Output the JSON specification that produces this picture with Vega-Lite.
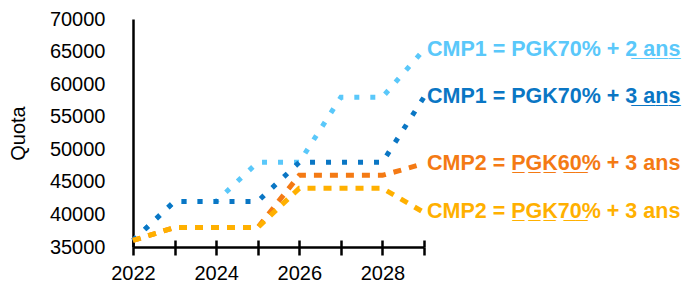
{
  "$schema": "https://vega.github.io/schema/vega-lite/v6.json",
  "width": 291,
  "height": 228,
  "autosize": {"type": "none"},
  "padding": {"left": 133, "top": 19, "right": 259, "bottom": 37},
  "background": "white",
  "config": {"view": {"stroke": null}, "font": "Liberation Sans"},
  "data": {
    "values": [
      {"year": 2022, "series": "CMP1 = PGK70% + 2 ans", "value": 36000},
      {"year": 2023, "series": "CMP1 = PGK70% + 2 ans", "value": 42000},
      {"year": 2024, "series": "CMP1 = PGK70% + 2 ans", "value": 42000},
      {"year": 2025, "series": "CMP1 = PGK70% + 2 ans", "value": 48000},
      {"year": 2026, "series": "CMP1 = PGK70% + 2 ans", "value": 48000},
      {"year": 2027, "series": "CMP1 = PGK70% + 2 ans", "value": 58000},
      {"year": 2028, "series": "CMP1 = PGK70% + 2 ans", "value": 58000},
      {"year": 2029, "series": "CMP1 = PGK70% + 2 ans", "value": 65300, "label": "CMP1 = PGK70% + 2\u0332 \u0332a\u0332n\u0332s\u0332"},
      {"year": 2022, "series": "CMP1 = PGK70% + 3 ans", "value": 36000},
      {"year": 2023, "series": "CMP1 = PGK70% + 3 ans", "value": 42000},
      {"year": 2024, "series": "CMP1 = PGK70% + 3 ans", "value": 42000},
      {"year": 2025, "series": "CMP1 = PGK70% + 3 ans", "value": 42000},
      {"year": 2026, "series": "CMP1 = PGK70% + 3 ans", "value": 48000},
      {"year": 2027, "series": "CMP1 = PGK70% + 3 ans", "value": 48000},
      {"year": 2028, "series": "CMP1 = PGK70% + 3 ans", "value": 48000},
      {"year": 2029, "series": "CMP1 = PGK70% + 3 ans", "value": 58000, "label": "CMP1 = PGK70% + 3\u0332 \u0332a\u0332n\u0332s\u0332"},
      {"year": 2022, "series": "CMP2 = PGK60% + 3 ans", "value": 36000},
      {"year": 2023, "series": "CMP2 = PGK60% + 3 ans", "value": 38000},
      {"year": 2024, "series": "CMP2 = PGK60% + 3 ans", "value": 38000},
      {"year": 2025, "series": "CMP2 = PGK60% + 3 ans", "value": 38000},
      {"year": 2026, "series": "CMP2 = PGK60% + 3 ans", "value": 46000},
      {"year": 2027, "series": "CMP2 = PGK60% + 3 ans", "value": 46000},
      {"year": 2028, "series": "CMP2 = PGK60% + 3 ans", "value": 46000},
      {"year": 2029, "series": "CMP2 = PGK60% + 3 ans", "value": 47800, "label": "CMP2 = P\u0332G\u0332K\u03326\u03320\u0332% + 3 ans"},
      {"year": 2022, "series": "CMP2 = PGK70% + 3 ans", "value": 36000},
      {"year": 2023, "series": "CMP2 = PGK70% + 3 ans", "value": 38000},
      {"year": 2024, "series": "CMP2 = PGK70% + 3 ans", "value": 38000},
      {"year": 2025, "series": "CMP2 = PGK70% + 3 ans", "value": 38000},
      {"year": 2026, "series": "CMP2 = PGK70% + 3 ans", "value": 44000},
      {"year": 2027, "series": "CMP2 = PGK70% + 3 ans", "value": 44000},
      {"year": 2028, "series": "CMP2 = PGK70% + 3 ans", "value": 44000},
      {"year": 2029, "series": "CMP2 = PGK70% + 3 ans", "value": 40300, "label": "CMP2 = P\u0332G\u0332K\u03327\u03320\u0332% + 3 ans"}
    ]
  },
  "encoding": {
    "y": {
      "field": "value", "type": "quantitative",
      "scale": {"domain": [35000, 70000], "nice": false, "zero": false},
      "axis": {
        "values": [35000, 40000, 45000, 50000, 55000, 60000, 65000, 70000],
        "format": "d", "grid": false, "ticks": false, "tickSize": 0,
        "domainColor": "black", "domainWidth": 2.5,
        "labelFontSize": 20, "labelColor": "black", "labelPadding": 28,
        "labelFont": "Liberation Sans",
        "title": "Quota", "titleFontSize": 20, "titleFontWeight": "normal",
        "titleColor": "black", "titlePadding": 21, "titleFont": "Liberation Sans"
      }
    },
    "color": {
      "field": "series", "type": "nominal",
      "scale": {
        "domain": ["CMP1 = PGK70% + 2 ans", "CMP1 = PGK70% + 3 ans", "CMP2 = PGK60% + 3 ans", "CMP2 = PGK70% + 3 ans"],
        "range": ["#5AC8FA", "#0A76C4", "#F47A14", "#FFB000"]
      },
      "legend": null
    }
  },
  "layer": [
    {
      "mark": {"type": "point", "opacity": 0},
      "encoding": {
        "x": {
          "field": "year", "type": "quantitative",
          "scale": {"domain": [2022, 2029], "nice": false, "zero": false},
          "axis": {
            "orient": "bottom",
            "values": [2022, 2023, 2024, 2025, 2026, 2027, 2028, 2029],
            "labels": false, "domain": false, "grid": false, "title": null,
            "tickColor": "black", "tickWidth": 2.5, "tickSize": -7
          }
        }
      }
    },
    {
      "mark": {"type": "line", "strokeWidth": 5, "clip": false},
      "encoding": {
        "x": {
          "field": "year", "type": "quantitative",
          "scale": {"domain": [2022, 2029], "nice": false, "zero": false},
          "axis": {
            "orient": "bottom",
            "values": [2022, 2023, 2024, 2025, 2026, 2027, 2028, 2029],
            "labelExpr": "datum.value % 2 == 0 ? datum.value : ''",
            "format": "d", "grid": false, "title": null,
            "domainColor": "black", "domainWidth": 2.5,
            "tickColor": "black", "tickWidth": 2.5, "tickSize": 8,
            "labelFontSize": 20, "labelColor": "black", "labelPadding": 8,
            "labelFont": "Liberation Sans", "labelFlush": false
          }
        },
        "strokeDash": {
          "field": "series", "type": "nominal",
          "scale": {
            "domain": ["CMP1 = PGK70% + 2 ans", "CMP1 = PGK70% + 3 ans", "CMP2 = PGK60% + 3 ans", "CMP2 = PGK70% + 3 ans"],
            "range": [[5, 11], [5, 11], [8, 8], [8, 8]]
          },
          "legend": null
        }
      }
    },
    {
      "transform": [{"filter": "isValid(datum.label)"}],
      "mark": {"type": "text", "align": "left", "baseline": "middle", "dx": 3, "fontSize": 21.5, "fontWeight": "bold", "font": "Liberation Sans"},
      "encoding": {
        "x": {"field": "year", "type": "quantitative", "axis": null},
        "text": {"field": "label"}
      }
    }
  ],
  "resolve": {"axis": {"x": "independent"}}
}
